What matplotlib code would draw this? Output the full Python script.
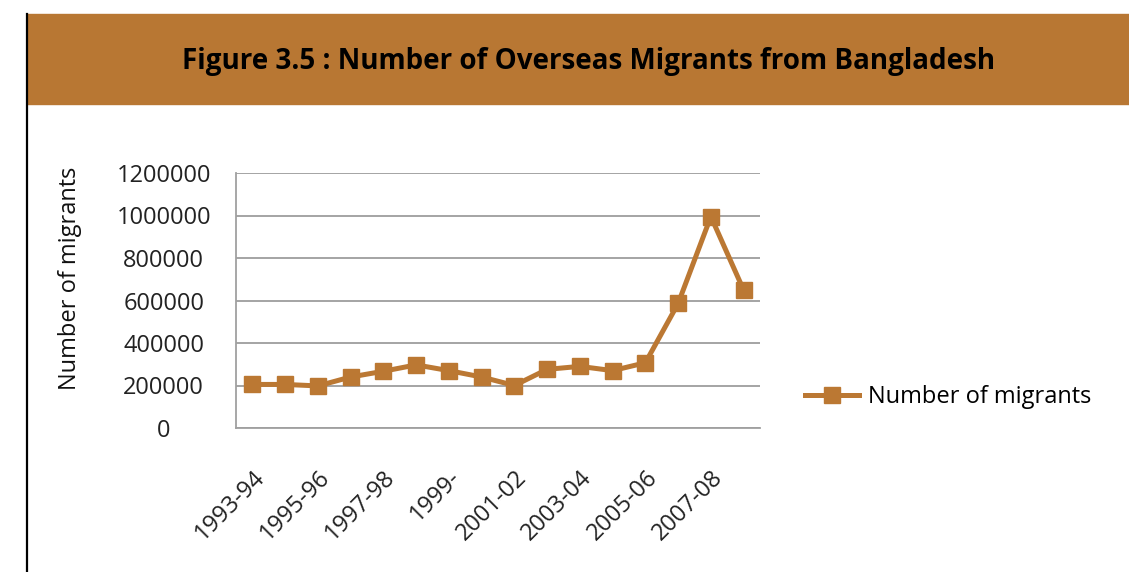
import numpy as np
import matplotlib.pyplot as plt
from matplotlib.patches import Rectangle
from matplotlib.lines import Line2D

# data
years = ['1993-94', '1994-95', '1995-96', '1996-97', '1997-98', '1998-99',
         '1999-2000', '2000-01', '2001-02', '2002-03', '2003-04', '2004-05',
         '2005-06', '2006-07', '2007-08', '2008-09']
migrants = [205000, 205000, 198000, 240000, 267000, 297000, 270000, 240000,
            200000, 276000, 290000, 270000, 307000, 586000, 995000, 649000]
tick_labels = ['1993-94', '1995-96', '1997-98', '1999-', '2001-02',
               '2003-04', '2005-06', '2007-08']
yticks = [0, 200000, 400000, 600000, 800000, 1000000, 1200000]

plt.rcParams['font.family'] = ['Open Sans', 'DejaVu Sans']
brown = '#BB7833'
header = '#B87733'

W, H = 1129, 572
fig = plt.figure(figsize=(W / 100, H / 100), dpi=100)

# header band and left border
fig.patches.append(Rectangle((27 / W, 1 - 104 / H), 1 - 27 / W, 90 / H,
                             transform=fig.transFigure, color=header, zorder=0))
fig.lines.append(Line2D([27 / W, 27 / W], [0, 1 - 14 / H], transform=fig.transFigure,
                        color='black', lw=1.6))
fig.text(589 / W, 1 - 61 / H, 'Figure 3.5 : Number of Overseas Migrants from Bangladesh',
         ha='center', va='center', fontsize=20, fontweight='bold', color='black')

ax = fig.add_axes([236 / W, 1 - 428 / H, (760 - 236) / W, (428 - 173) / H])
x = np.arange(len(years))
ax.plot(x, migrants, color=brown, lw=3.6, marker='s', markersize=12,
        label='Number of migrants', zorder=3)

ax.set_xlim(-0.5, len(years) - 0.5)
ax.set_ylim(0, 1200000)
ax.set_yticks(yticks)
ax.set_yticklabels([str(v) for v in yticks], ha='center')
ax.tick_params(axis='y', length=0, pad=52, labelsize=17, colors='#222222')
ax.set_xticks(x[::2])
ax.set_xticklabels(tick_labels, rotation=45, ha='right', rotation_mode='anchor',
                   fontsize=17, color='#222222')
ax.tick_params(axis='x', length=0, pad=27)
ax.grid(axis='y', color='#8c8c8c', lw=1.1)
ax.set_axisbelow(True)
for s in ['top', 'right']:
    ax.spines[s].set_visible(False)
for s in ['left', 'bottom']:
    ax.spines[s].set_color('#a0a0a0')
    ax.spines[s].set_linewidth(1.3)

fig.text(70 / W, 1 - 278 / H, 'Number of migrants', rotation=90, ha='center',
         va='center', fontsize=17, color='#111111')

fig.legend(loc='center left', bbox_to_anchor=(805 / W, 1 - 397 / H), frameon=False,
           fontsize=17, handlelength=2.3, handletextpad=0.35, borderpad=0,
           borderaxespad=0)

fig.savefig('out.png', dpi=100)
